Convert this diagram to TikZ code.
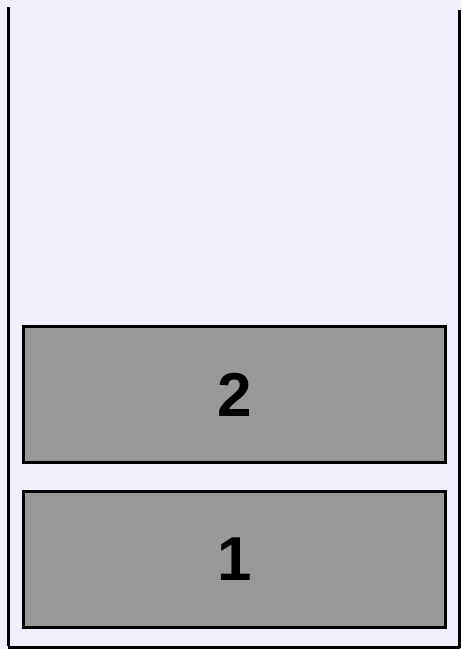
\documentclass[tikz,border=0pt]{standalone}
\usepackage{fontspec}
\setmainfont{Liberation Sans}
\definecolor{stackbg}{RGB}{240,240,252}
\definecolor{slotgray}{RGB}{153,153,153}
\usetikzlibrary{positioning}

\begin{document}
\begin{tikzpicture}[x=1pt,y=-1pt,font=\bfseries\fontsize{62}{62}\selectfont]
  \useasboundingbox (0,0) rectangle (461,649);
  \fill[stackbg] (0,0) rectangle (461,649);
  \draw[line width=3pt] (8.5,7) -- (8.5,645.5);
  \draw[line width=3pt] (8,647.5) -- (459.5,647.5);
  \draw[line width=3pt] (459.5,10) -- (459.5,647.5);
  \node[draw,line width=3pt,fill=slotgray,minimum width=422pt,minimum height=136pt,inner sep=0pt] (s1) at (234.5,559.5) {1};
  \node[draw,line width=3pt,fill=slotgray,minimum width=422pt,minimum height=136pt,inner sep=0pt,above=26pt of s1] (s2) {2};
\end{tikzpicture}
\end{document}
